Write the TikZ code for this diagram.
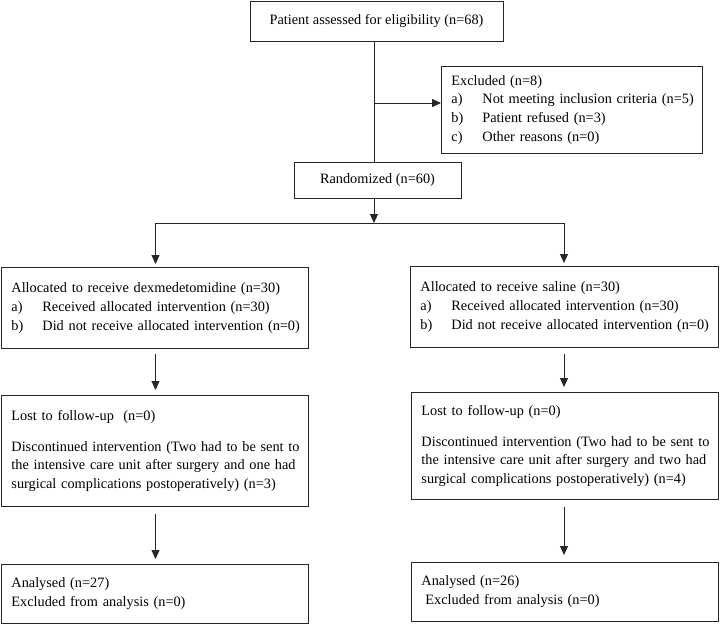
\documentclass[tikz,border=0pt]{standalone}
\usepackage{fontspec}
\setmainfont{Liberation Serif}
\usetikzlibrary{arrows.meta}
\tikzset{
  linec/.style={draw=black!85, line width=0.9pt},
  box/.style={linec, anchor=north west, inner xsep=10pt, inner ysep=0pt, align=left,
    font=\fontsize{14.3}{18.8}\selectfont},
  cbox/.style={linec, inner sep=0pt, align=center, font=\fontsize{14.3}{18.8}\selectfont},
  conn/.style={linec},
  arr/.style={linec, -{Triangle[length=9pt,width=8pt]}},
}
\newcommand{\itm}[2]{\mbox{\makebox[31pt][l]{#1}#2}}
\begin{document}
\begin{tikzpicture}[x=1pt,y=-1pt]
\useasboundingbox (0,0) rectangle (720,625);
% boxes
\node[cbox, minimum width=253pt, minimum height=40pt] (elig) at (376.5,21) {Patient assessed for eligibility (n=68)};
\node[box, minimum width=261pt, minimum height=87pt, text width=241pt] (excl) at (441,66)
  {\mbox{Excluded (n=8)}\\ \itm{a)}{Not meeting inclusion criteria (n=5)}\\ \itm{b)}{Patient refused (n=3)}\\ \itm{c)}{Other reasons (n=0)}};
\node[cbox, minimum width=167pt, minimum height=36pt] (rand) at (377.5,180) {Randomized (n=60)};
\node[box, minimum width=307pt, minimum height=81pt, text width=287pt] (allocL) at (1,267)
  {\mbox{Allocated to receive dexmedetomidine (n=30)}\\ \itm{a)}{Received allocated intervention (n=30)}\\ \itm{b)}{Did not receive allocated intervention (n=0)}};
\node[box, minimum width=308pt, minimum height=81pt, text width=288pt] (allocR) at (410,266)
  {\mbox{Allocated to receive saline (n=30)}\\ \itm{a)}{Received allocated intervention (n=30)}\\ \itm{b)}{Did not receive allocated intervention (n=0)}};
\node[box, minimum width=307pt, minimum height=111pt, text width=287pt] (lostL) at (1,395)
  {\mbox{Lost to follow-up\ \ (n=0)}\\[12pt] \mbox{Discontinued intervention (Two had to be sent to}\\ \mbox{the intensive care unit after surgery and one had}\\ \mbox{surgical complications postoperatively) (n=3)}};
\node[box, minimum width=307pt, minimum height=107pt, text width=287pt] (lostR) at (411,392)
  {\mbox{Lost to follow-up (n=0)}\\[12pt] \mbox{Discontinued intervention (Two had to be sent to}\\ \mbox{the intensive care unit after surgery and two had}\\ \mbox{surgical complications postoperatively) (n=4)}};
\node[box, minimum width=307pt, minimum height=59pt, text width=287pt] (anL) at (1,564)
  {\mbox{Analysed (n=27)}\\ \mbox{Excluded from analysis (n=0)}};
\node[box, minimum width=307pt, minimum height=59pt, text width=287pt] (anR) at (411,562)
  {\mbox{Analysed (n=26)}\\ \mbox{\hspace*{4pt}Excluded from analysis (n=0)}};
% junction coordinates
\coordinate (jx) at (374,103);
\coordinate (split) at (374,223);
\coordinate (sl) at (155.5,223);
\coordinate (sr) at (564,223);
% connectors
\draw[conn] (elig.south -| jx) -- (rand.north -| jx);
\draw[arr] (jx) -- (excl.west |- jx);
\draw[arr] (rand.south -| split) -- (split);
\draw[conn] (sl) -- (sr);
\draw[arr, shorten >=3pt] (sl) -- (allocL.north -| sl);
\draw[arr, shorten >=3pt] (sr) -- (allocR.north -| sr);
\draw[arr, shorten <=5pt, shorten >=5pt] (allocL.south -| sl) -- (lostL.north -| sl);
\draw[arr, shorten <=6pt, shorten >=5pt] (allocR.south -| sr) -- (lostR.north -| sr);
\draw[arr, shorten <=7pt, shorten >=5pt] (lostL.south -| sl) -- (anL.north -| sl);
\draw[arr, shorten <=7pt, shorten >=7pt] (lostR.south -| sr) -- (anR.north -| sr);
\end{tikzpicture}
\end{document}
